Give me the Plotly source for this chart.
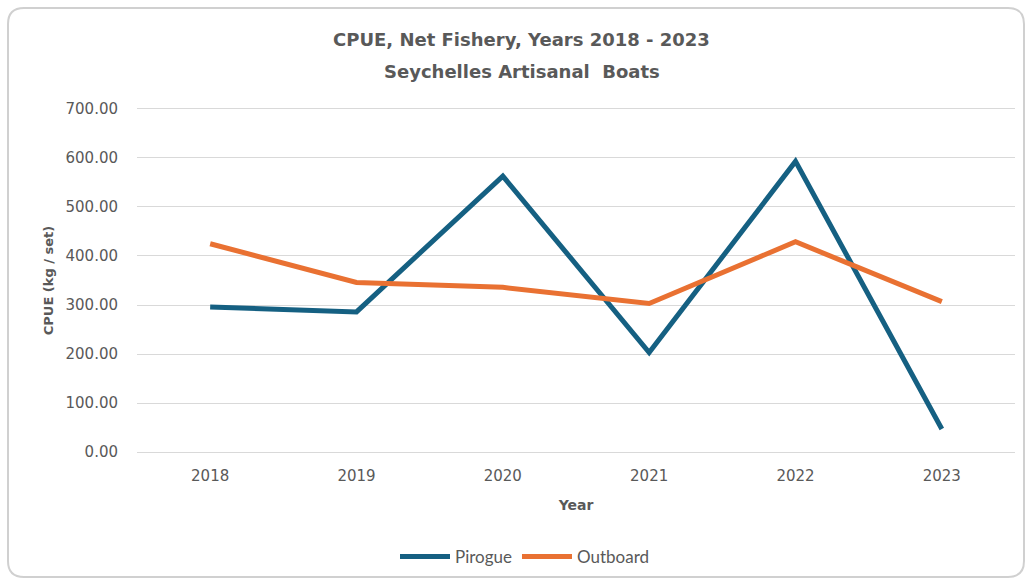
import plotly.graph_objects as go

# Catch per unit effort, net fishery, by boat type
years = ["2018", "2019", "2020", "2021", "2022", "2023"]
pirogue = [296, 286, 563, 203, 593, 47]
outboard = [425, 346, 336, 303, 429, 307]
y_ticks = [0, 100, 200, 300, 400, 500, 600, 700]

W, H = 1028, 579
L, R, T, B = 137, 13, 104, 122
PW, PH = W - L - R, H - T - B


def px(x):
    return (x - L) / PW


def py(y):
    return (H - B - y) / PH


BLUE = "#156082"
ORANGE = "#E97132"
GREY_TXT = "#595959"

fig = go.Figure()
fig.add_trace(go.Scatter(x=years, y=pirogue, name="Pirogue", mode="lines",
                         line=dict(color=BLUE, width=5)))
fig.add_trace(go.Scatter(x=years, y=outboard, name="Outboard", mode="lines",
                         line=dict(color=ORANGE, width=5)))

# rounded chart-area frame
x0, x1, y0, y1, r = 8, 1024, 8, 577, 16
path = (f"M {px(x0 + r)} {py(y0)} L {px(x1 - r)} {py(y0)} "
        f"Q {px(x1)} {py(y0)} {px(x1)} {py(y0 + r)} "
        f"L {px(x1)} {py(y1 - r)} Q {px(x1)} {py(y1)} {px(x1 - r)} {py(y1)} "
        f"L {px(x0 + r)} {py(y1)} Q {px(x0)} {py(y1)} {px(x0)} {py(y1 - r)} "
        f"L {px(x0)} {py(y0 + r)} Q {px(x0)} {py(y0)} {px(x0 + r)} {py(y0)} Z")
fig.add_shape(type="path", path=path, xref="paper", yref="paper",
              line=dict(color="#d0d0d0", width=2), fillcolor="rgba(0,0,0,0)",
              layer="below")

title_font = dict(family="DejaVu Sans", size=18, color=GREY_TXT)
fig.add_annotation(text="<b>CPUE, Net Fishery, Years 2018 - 2023</b>",
                   x=px(521), y=py(40), xref="paper", yref="paper",
                   xanchor="center", yanchor="middle", showarrow=False,
                   font=title_font)
fig.add_annotation(text="<b>Seychelles Artisanal  Boats</b>",
                   x=px(522), y=py(71), xref="paper", yref="paper",
                   xanchor="center", yanchor="middle", showarrow=False,
                   font=title_font)

tick_font = dict(family="DejaVu Sans", size=15, color=GREY_TXT)

fig.update_layout(
    width=W, height=H,
    margin=dict(l=L, r=R, t=T, b=B, autoexpand=False),
    paper_bgcolor="white", plot_bgcolor="white",
    showlegend=True,
    legend=dict(orientation="h", x=px(525), y=py(557), xanchor="center",
                yanchor="middle", font=dict(family="Lato", size=17, color=GREY_TXT),
                itemwidth=50, traceorder="normal"),
    xaxis=dict(type="category", range=[-0.5, 5.5], showgrid=False,
               showline=False, zeroline=False, automargin=False,
               tickfont=tick_font, ticks="", ticklabelstandoff=8,
               title=dict(text="<b>Year</b>", standoff=16,
                          font=dict(family="DejaVu Sans", size=14, color=GREY_TXT))),
    yaxis=dict(range=[-10, 710], tickvals=y_ticks,
               ticktext=[f"{v:.2f}" for v in y_ticks],
               showgrid=True, gridcolor="#d9d9d9", gridwidth=1,
               zeroline=False, showline=False, ticks="", ticklabelstandoff=18,
               automargin=False, tickfont=tick_font,
               title=dict(text="<b>CPUE (kg / set)</b>", standoff=8,
                          font=dict(family="DejaVu Sans", size=13, color=GREY_TXT))),
)

fig.write_html("out.html")
